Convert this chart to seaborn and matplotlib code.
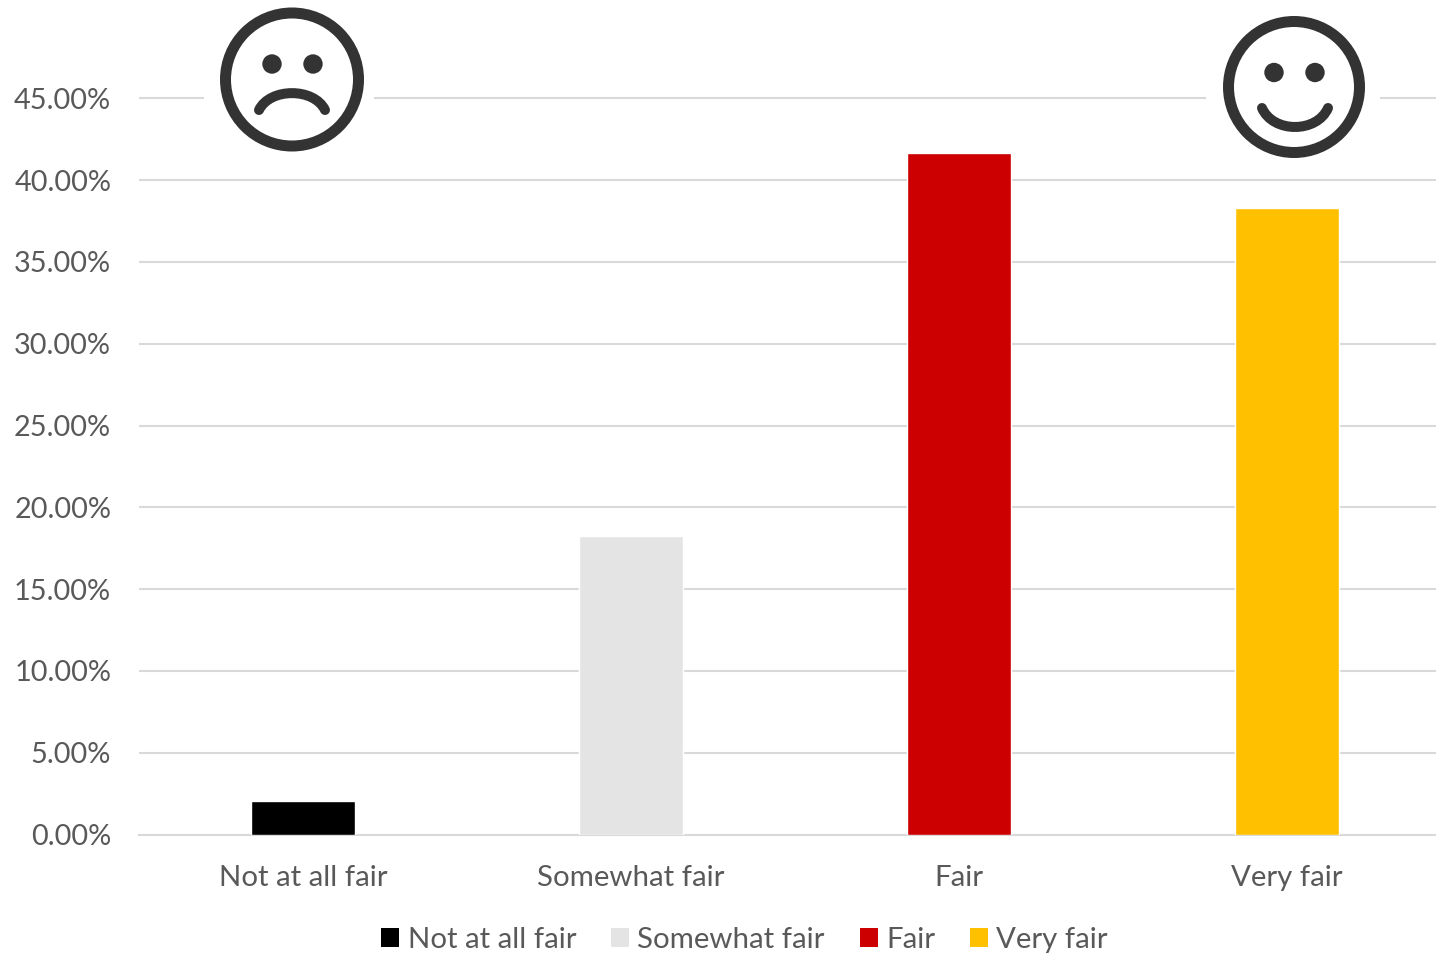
import matplotlib
matplotlib.use("Agg")
import matplotlib.pyplot as plt
from matplotlib.patches import Circle, PathPatch, Rectangle
from matplotlib.path import Path
import pandas as pd
import seaborn as sns

categories = ["Not at all fair", "Somewhat fair", "Fair", "Very fair"]
shares = [2.03, 18.23, 41.65, 38.28]
colors = ["#000000", "#E4E4E4", "#CC0000", "#FFC000"]
y_ticks = [0, 5, 10, 15, 20, 25, 30, 35, 40, 45]

TEXT = "#595959"
GRID = "#D9D9D9"
INK = "#333333"
W, H = 1436, 956
BASE = 834.5

sns.set_theme(style="white")
plt.rcParams["font.family"] = ["Lato", "DejaVu Sans"]

df = pd.DataFrame({"answer": categories, "share": shares})

fig = plt.figure(figsize=(W / 100, H / 100), dpi=100, facecolor="white")
ax = fig.add_axes([139 / W, (H - BASE) / H, (W - 139) / W, BASE / H])

sns.barplot(data=df, x="answer", y="share", hue="answer", order=categories,
            hue_order=categories, palette=colors, width=0.317, dodge=False,
            saturation=1, legend=False, ax=ax, zorder=3)

ax.set_xlim(-0.5, 3.454)
ax.set_ylim(0, BASE / 16.36)
ax.set_yticks(y_ticks)
ax.set_yticklabels([f"{v:.2f}%" for v in y_ticks])
ax.set_xlabel("")
ax.set_ylabel("")
ax.grid(axis="y", color=GRID, linewidth=1.5, zorder=0)
ax.set_axisbelow(True)
for name in ("top", "left", "right"):
    ax.spines[name].set_visible(False)
ax.spines["bottom"].set_color(GRID)
ax.spines["bottom"].set_linewidth(1.5)
ax.tick_params(axis="y", length=0, pad=20, labelsize=20.8, labelcolor=TEXT)
ax.tick_params(axis="x", length=0, pad=22, labelsize=21.2, labelcolor=TEXT)

handles = [Rectangle((0, 0), 1, 1, facecolor=c, edgecolor="none") for c in colors]
fig.legend(handles, categories, loc="center", bbox_to_anchor=(744.5 / W, (H - 940) / H),
           ncol=4, frameon=False, fontsize=21.2, labelcolor=TEXT, handlelength=0.61,
           handleheight=0.61, handletextpad=0.29, columnspacing=1.18,
           borderpad=0, borderaxespad=0)

# Overlay in pixel units for the two face icons
overlay = fig.add_axes([0, 0, 1, 1], zorder=5)
overlay.set_xlim(0, W)
overlay.set_ylim(H, 0)
overlay.axis("off")


def face(cx, cy, r_mid, stroke, eye_dx, eye_y, eye_r, mouth, gap):
    overlay.add_patch(Rectangle((gap[0], cy - 30), gap[1] - gap[0], 60, facecolor="white",
                                edgecolor="none"))
    overlay.add_patch(Circle((cx, cy), r_mid, facecolor="white", edgecolor=INK,
                             linewidth=stroke * 0.72))
    for ex in eye_dx:
        overlay.add_patch(Circle((ex, eye_y), eye_r, facecolor=INK, edgecolor="none"))
    codes = [Path.MOVETO, Path.CURVE4, Path.CURVE4, Path.CURVE4]
    overlay.add_patch(PathPatch(Path(mouth, codes), facecolor="none", edgecolor=INK,
                                linewidth=10 * 0.72, capstyle="round"))


face(292, 79.5, 66.5, 11, (272, 313), 64, 9.7,
     [(259, 110), (270, 87.5), (314, 87.5), (325, 110)], (204, 374))
face(1294, 87, 65.5, 11, (1274, 1315), 72.5, 9.7,
     [(1262, 108), (1273, 133.3), (1317, 133.3), (1328, 108)], (1206, 1380))

fig.savefig("out.png", dpi=100, facecolor="white")
